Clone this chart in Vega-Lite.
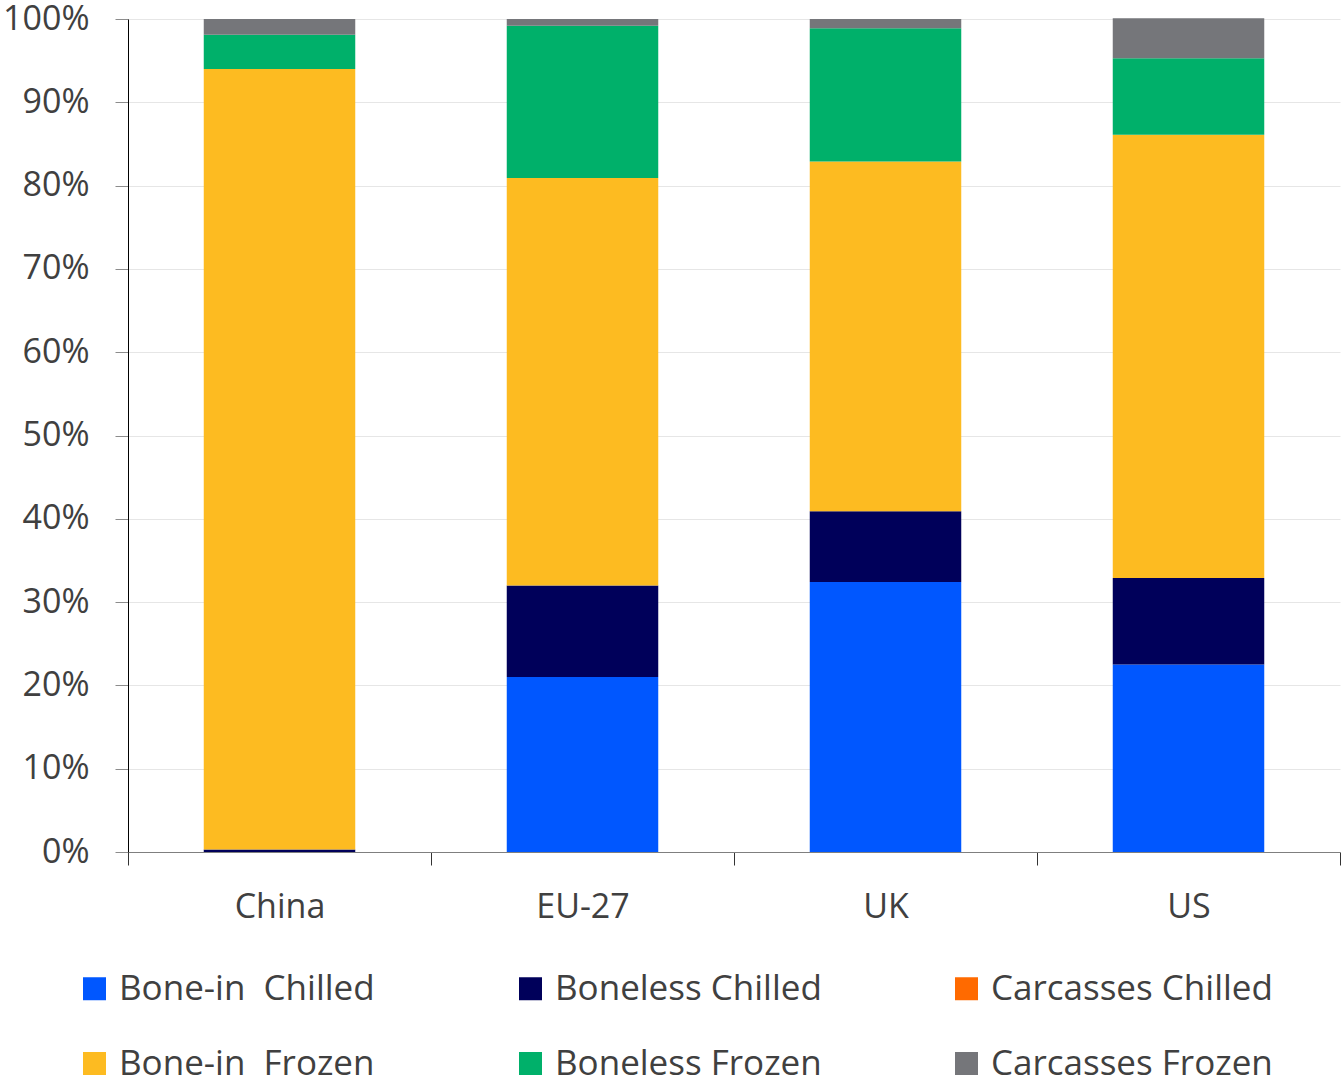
{
  "$schema": "https://vega.github.io/schema/vega-lite/v6.json",
  "width": 1212,
  "height": 833,
  "autosize": {"type": "none"},
  "padding": {"left": 128, "top": 19, "right": 2, "bottom": 230},
  "background": "white",
  "config": {
    "view": {"stroke": null},
    "font": "Open Sans",
    "axis": {"labelFont": "Open Sans", "labelColor": "#404040"},
    "legend": {"labelFont": "Open Sans"}
  },
  "data": {
    "values": [
      {"country": "China", "type": "Bone-in  Chilled", "value": 0.0, "o": 1},
      {"country": "China", "type": "Boneless Chilled", "value": 0.3, "o": 2},
      {"country": "China", "type": "Carcasses Chilled", "value": 0.0, "o": 3},
      {"country": "China", "type": "Bone-in  Frozen", "value": 93.7, "o": 4},
      {"country": "China", "type": "Boneless Frozen", "value": 4.1, "o": 5},
      {"country": "China", "type": "Carcasses Frozen", "value": 1.9, "o": 6},
      {"country": "EU-27", "type": "Bone-in  Chilled", "value": 21.0, "o": 1},
      {"country": "EU-27", "type": "Boneless Chilled", "value": 11.0, "o": 2},
      {"country": "EU-27", "type": "Carcasses Chilled", "value": 0.0, "o": 3},
      {"country": "EU-27", "type": "Bone-in  Frozen", "value": 48.9, "o": 4},
      {"country": "EU-27", "type": "Boneless Frozen", "value": 18.3, "o": 5},
      {"country": "EU-27", "type": "Carcasses Frozen", "value": 0.8, "o": 6},
      {"country": "UK", "type": "Bone-in  Chilled", "value": 32.4, "o": 1},
      {"country": "UK", "type": "Boneless Chilled", "value": 8.5, "o": 2},
      {"country": "UK", "type": "Carcasses Chilled", "value": 0.0, "o": 3},
      {"country": "UK", "type": "Bone-in  Frozen", "value": 42.0, "o": 4},
      {"country": "UK", "type": "Boneless Frozen", "value": 16.0, "o": 5},
      {"country": "UK", "type": "Carcasses Frozen", "value": 1.1, "o": 6},
      {"country": "US", "type": "Bone-in  Chilled", "value": 22.5, "o": 1},
      {"country": "US", "type": "Boneless Chilled", "value": 10.4, "o": 2},
      {"country": "US", "type": "Carcasses Chilled", "value": 0.0, "o": 3},
      {"country": "US", "type": "Bone-in  Frozen", "value": 53.2, "o": 4},
      {"country": "US", "type": "Boneless Frozen", "value": 9.2, "o": 5},
      {"country": "US", "type": "Carcasses Frozen", "value": 4.8, "o": 6}
    ]
  },
  "mark": {"type": "bar", "width": {"band": 0.5}},
  "encoding": {
    "x": {
      "field": "country",
      "type": "nominal",
      "sort": ["China", "EU-27", "UK", "US"],
      "scale": {"paddingInner": 0, "paddingOuter": 0},
      "axis": {
        "title": null,
        "labelAngle": 0,
        "labelFontSize": 34,
        "labelPadding": 25,
        "tickBand": "extent",
        "tickSize": 13,
        "tickColor": "#333333",
        "domainColor": "#7f7f7f",
        "grid": false
      }
    },
    "y": {
      "field": "value",
      "type": "quantitative",
      "stack": "zero",
      "scale": {"domain": [0, 100], "nice": false},
      "axis": {
        "title": null,
        "values": [0, 10, 20, 30, 40, 50, 60, 70, 80, 90, 100],
        "labelExpr": "datum.value + '%'",
        "labelFontSize": 34,
        "labelPadding": 26,
        "tickSize": 13,
        "tickColor": "#8c8c8c",
        "domainColor": "#000000",
        "gridColor": "#e6e6e6"
      }
    },
    "order": {"field": "o", "type": "quantitative"},
    "color": {
      "field": "type",
      "type": "nominal",
      "scale": {
        "domain": ["Bone-in  Chilled", "Boneless Chilled", "Carcasses Chilled", "Bone-in  Frozen", "Boneless Frozen", "Carcasses Frozen"],
        "range": ["#0057FF", "#00005A", "#FF6A00", "#FDBB21", "#00B06A", "#75767A"]
      },
      "legend": {
        "title": null,
        "orient": "none",
        "direction": "horizontal",
        "legendX": -51,
        "legendY": 952,
        "columns": 3,
        "gridAlign": "all",
        "symbolType": "square",
        "symbolSize": 529,
        "symbolStrokeWidth": 0,
        "labelFontSize": 35,
        "labelColor": "#404040",
        "labelOffset": 7,
        "labelLimit": 400,
        "labelExpr": "replace(datum.label, '  ', '\u00a0 ')",
        "columnPadding": 112,
        "rowPadding": 39
      }
    }
  }
}
